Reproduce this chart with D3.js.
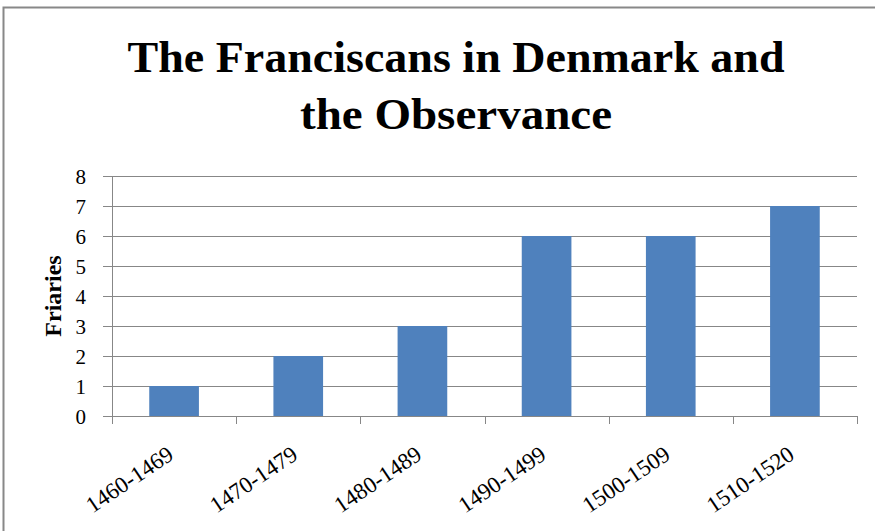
<!DOCTYPE html>
<html>
<head>
<meta charset="utf-8">
<script src="https://cdn.jsdelivr.net/npm/d3@7"></script>
<style>
  body { margin: 0; background: #fff; }
  svg { display: block; }
</style>
</head>
<body>
<div id="chart"></div>
<script>
const titleLines = ['The Franciscans in Denmark and', 'the Observance'];
const categories = ['1460-1469', '1470-1479', '1480-1489', '1490-1499', '1500-1509', '1510-1520'];
const friaries = [1, 2, 3, 6, 6, 7];
const yTicks = [0, 1, 2, 3, 4, 5, 6, 7, 8];
const yLabel = 'Friaries';

const width = 875, height = 531;
const margin = { top: 176, right: 18, bottom: 115, left: 112 };
const serif = '"Liberation Serif", "Times New Roman", serif';
const gridColor = '#878787';

const svg = d3.select('#chart').append('svg')
  .attr('width', width)
  .attr('height', height);

// outer chart border
svg.append('rect')
  .attr('x', 3.5).attr('y', 7.5)
  .attr('width', width + 10).attr('height', height + 10)
  .attr('fill', '#fff')
  .attr('stroke', '#888').attr('stroke-width', 2);

const x = d3.scaleBand()
  .domain(categories)
  .range([margin.left, width - margin.right])
  .paddingInner(0.6)
  .paddingOuter(0.3);

const y = d3.scaleLinear()
  .domain([0, 8])
  .range([height - margin.bottom, margin.top]);

// gridlines
svg.append('g')
  .selectAll('line')
  .data(yTicks.filter(d => d > 0))
  .join('line')
  .attr('x1', margin.left).attr('x2', width - margin.right)
  .attr('y1', d => Math.round(y(d)) + 0.5).attr('y2', d => Math.round(y(d)) + 0.5)
  .attr('stroke', gridColor)
  .attr('shape-rendering', 'crispEdges');

// bars
svg.append('g')
  .selectAll('rect')
  .data(categories)
  .join('rect')
  .attr('x', d => x(d))
  .attr('width', x.bandwidth())
  .attr('y', (d, i) => y(friaries[i]))
  .attr('height', (d, i) => y(0) - y(friaries[i]))
  .attr('fill', '#4f81bd');

// y axis
svg.append('g')
  .attr('transform', `translate(${margin.left},0)`)
  .call(d3.axisLeft(y).tickValues(yTicks).tickSize(9).tickPadding(17).tickSizeOuter(0))
  .call(g => g.selectAll('path, line').attr('stroke', gridColor).attr('shape-rendering', 'crispEdges'))
  .call(g => g.selectAll('.tick text')
    .attr('font-family', serif).attr('font-size', 21).attr('fill', '#000').attr('dy', '0.35em'));

// x axis: ticks at category boundaries
const step = x.step();
const bounds = d3.range(categories.length + 1).map(i => margin.left + i * step);
const xAxis = svg.append('g');
xAxis.append('line')
  .attr('x1', margin.left).attr('x2', width - margin.right)
  .attr('y1', Math.round(y(0)) + 0.5).attr('y2', Math.round(y(0)) + 0.5)
  .attr('stroke', gridColor).attr('shape-rendering', 'crispEdges');
xAxis.selectAll('.bt')
  .data(bounds)
  .join('line')
  .attr('class', 'bt')
  .attr('x1', d => Math.round(d) + 0.5).attr('x2', d => Math.round(d) + 0.5)
  .attr('y1', y(0)).attr('y2', y(0) + 8)
  .attr('stroke', gridColor).attr('shape-rendering', 'crispEdges');
xAxis.selectAll('text')
  .data(categories)
  .join('text')
  .attr('text-anchor', 'end')
  .attr('font-family', serif)
  .attr('font-size', 23)
  .attr('transform', d => `translate(${x(d) + x.bandwidth() / 2 + 1},${y(0) + 42}) rotate(-34)`)
  .text(d => d);

// y axis title
svg.append('text')
  .attr('transform', `translate(61,${(y(0) + y(8)) / 2}) rotate(-90)`)
  .attr('text-anchor', 'middle')
  .attr('font-family', serif)
  .attr('font-weight', 'bold')
  .attr('font-size', 24)
  .text(yLabel);

// title
const titleWidths = [657, 312];
svg.append('g')
  .selectAll('text')
  .data(titleLines)
  .join('text')
  .attr('x', 456)
  .attr('y', (d, i) => 72 + i * 57)
  .attr('text-anchor', 'middle')
  .attr('font-family', serif)
  .attr('font-weight', 'bold')
  .attr('font-size', 44)
  .attr('textLength', (d, i) => titleWidths[i])
  .attr('lengthAdjust', 'spacingAndGlyphs')
  .text(d => d);
</script>
</body>
</html>
